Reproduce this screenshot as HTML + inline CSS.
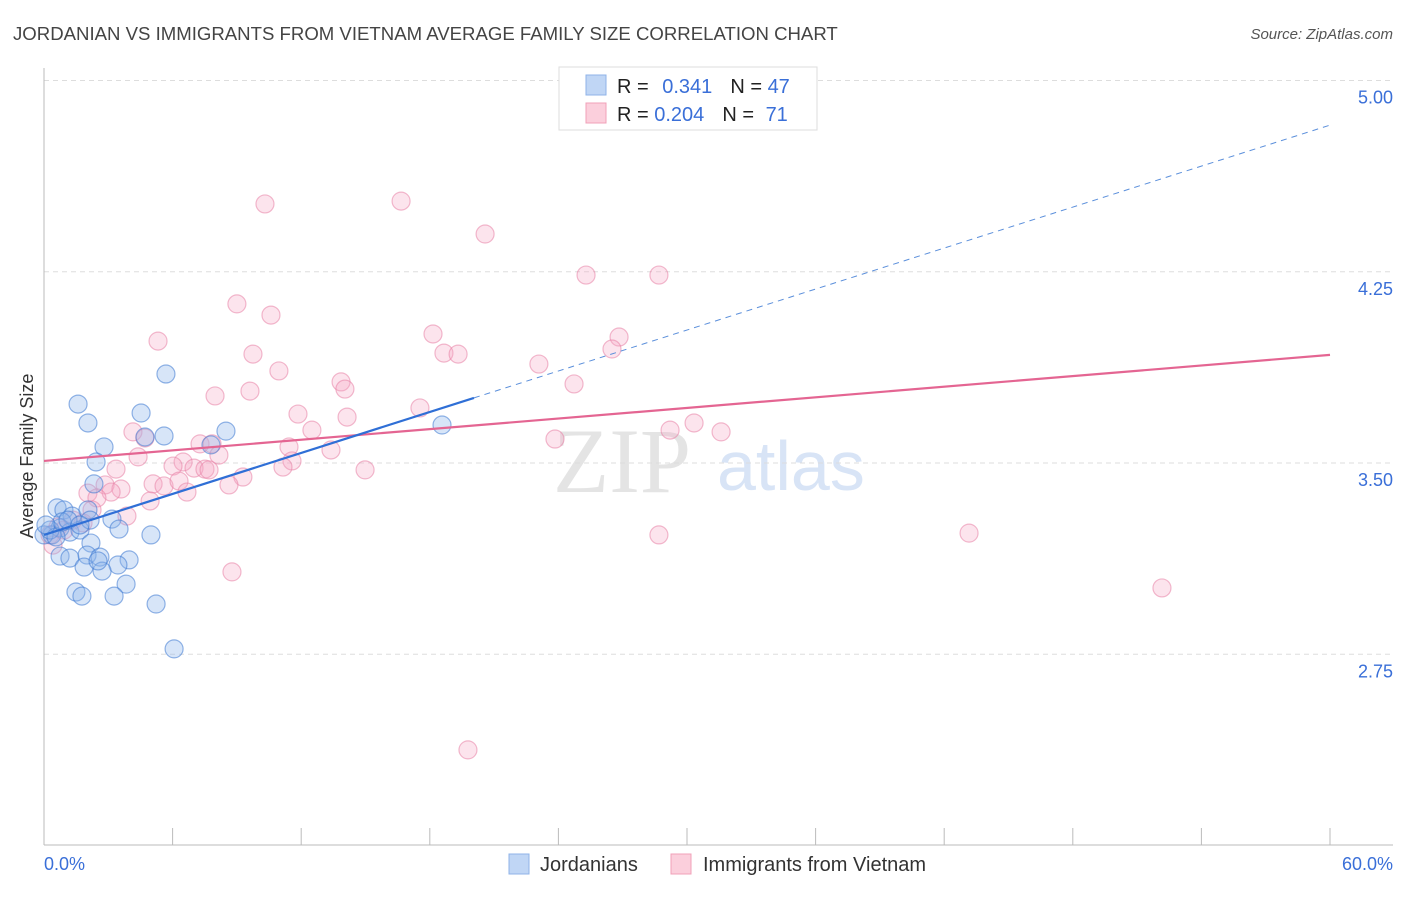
<!DOCTYPE html>
<html><head><meta charset="utf-8"><style>
body{margin:0;background:#fff;font-family:"Liberation Sans",sans-serif;}
svg text{font-family:"Liberation Sans",sans-serif;}
</style></head><body>
<svg id="chart" width="1406" height="892" xmlns="http://www.w3.org/2000/svg">
<text x="13" y="40" font-size="18.6" fill="#444">JORDANIAN VS IMMIGRANTS FROM VIETNAM AVERAGE FAMILY SIZE CORRELATION CHART</text>
<text x="1393" y="39" font-size="15" fill="#555" font-style="italic" text-anchor="end">Source: ZipAtlas.com</text>
<g>
<text x="553" y="492" font-size="92" fill="#e4e4e4" font-family="Liberation Serif" style="font-family:'Liberation Serif',serif">ZIP</text>
<text x="717" y="490" font-size="70" fill="#d8e4f6">atlas</text>
</g>
<g id="grid"></g>
<g id="axes"></g>
<g id="marks"></g>
<text x="33" y="456" font-size="18" fill="#333" text-anchor="middle" transform="rotate(-90 33 456)">Average Family Size</text>
<g>
<rect x="559" y="67" width="258" height="63" fill="#fff" stroke="#ddd"/>
<rect x="586" y="75" width="20" height="20" fill="#c0d6f5" stroke="#8fb3e8"/>
<rect x="586" y="103" width="20" height="20" fill="#fbcfdc" stroke="#f0a0b8"/>
<text x="617" y="93" font-size="20" fill="#222">R = <tspan fill="#3a6fd8" dx="8">0.341</tspan><tspan dx="18">N = </tspan><tspan fill="#3a6fd8">47</tspan></text>
<text x="617" y="121" font-size="20" fill="#222">R = <tspan fill="#3a6fd8">0.204</tspan><tspan dx="18">N = </tspan><tspan fill="#3a6fd8" dx="6">71</tspan></text>
</g>
<g>
<rect x="509" y="854" width="20" height="20" fill="#c0d6f5" stroke="#8fb3e8"/>
<text x="540" y="871" font-size="20" fill="#333">Jordanians</text>
<rect x="671" y="854" width="20" height="20" fill="#fbcfdc" stroke="#f0a0b8"/>
<text x="703" y="871" font-size="20" fill="#333">Immigrants from Vietnam</text>
</g>
</svg>
<script>
const yTicks=[5.00,4.25,3.50,2.75];
const yTickLabels=["5.00","4.25","3.50","2.75"];
const xTicks=[0,6,12,18,24,30,36,42,48,54,60];
const xEndLabels=["0.0%","60.0%"];
const blueX=[1.59,2.05,4.53,5.69,2.80,5.60,4.71,2.43,8.49,7.79,18.57,2.33,0.61,0.93,1.31,2.05,3.17,0.75,0.37,1.21,1.68,3.50,4.99,2.19,0.75,1.21,2.01,2.61,3.97,3.45,1.87,2.71,2.52,3.83,1.49,1.77,3.27,5.23,6.07,0,0.28,0.56,0.84,0.09,2.15,1.12,1.68];
const blueY=[3.731,3.657,3.696,3.849,3.563,3.606,3.602,3.504,3.625,3.571,3.649,3.418,3.324,3.316,3.292,3.316,3.280,3.245,3.218,3.229,3.237,3.241,3.218,3.186,3.135,3.127,3.139,3.131,3.120,3.100,3.092,3.076,3.116,3.025,2.994,2.978,2.978,2.947,2.771,3.218,3.237,3.210,3.269,3.257,3.276,3.276,3.257];
const pinkX=[10.31,16.66,20.58,25.29,28.69,9.00,10.59,18.15,26.83,5.32,18.66,19.32,26.50,9.75,23.09,10.96,13.86,14.04,24.73,7.98,9.61,17.54,11.85,14.14,4.15,4.71,12.50,7.28,7.84,30.33,29.21,31.59,23.84,11.43,13.39,4.39,6.49,6.02,7.00,7.51,7.70,3.36,11.57,11.15,14.98,8.16,9.28,5.09,5.60,6.30,2.85,3.59,8.63,2.05,3.13,2.47,4.95,6.67,2.24,3.87,1.35,1.82,0.65,0.28,0.42,8.77,28.69,43.16,52.16,19.78,0.93];
const pinkY=[4.516,4.527,4.398,4.237,4.237,4.124,4.080,4.006,3.994,3.978,3.931,3.927,3.947,3.927,3.888,3.861,3.818,3.790,3.810,3.763,3.782,3.716,3.692,3.680,3.622,3.598,3.629,3.575,3.575,3.657,3.629,3.622,3.594,3.563,3.551,3.524,3.504,3.488,3.480,3.476,3.473,3.476,3.508,3.484,3.473,3.531,3.445,3.418,3.410,3.429,3.414,3.398,3.414,3.382,3.386,3.363,3.351,3.386,3.316,3.292,3.276,3.265,3.249,3.218,3.178,3.073,3.218,3.225,3.010,2.375,3.237];
const blueTrend=[3.218,4.825];
const blueSolidEnd=[20.06];
const pinkTrend=[3.508,3.924];

const NS="http://www.w3.org/2000/svg";
const X0=44,X1=1330,Y0=463;
function xs(v){return X0+(v/60)*(X1-X0);}
function ys(v){return Y0-(v-3.5)*255;}
function mk(tag,attrs,parent){const e=document.createElementNS(NS,tag);for(const k in attrs)e.setAttribute(k,attrs[k]);parent.appendChild(e);return e;}
const grid=document.getElementById('grid'),axes=document.getElementById('axes'),marks=document.getElementById('marks');
yTicks.forEach((t,i)=>{
 const g=mk('line',{x1:44,x2:1393,y1:ys(t),y2:ys(t),stroke:'#ddd','stroke-dasharray':'5,4'},grid);
 
 
 const l=mk('text',{x:1393,y:ys(t)+23,'font-size':18,fill:'#3a6fd8','text-anchor':'end'},axes);
 l.textContent=yTickLabels[i];
 
 
});
const ya=mk('line',{x1:44,x2:44,y1:68,y2:845,stroke:'#bbb'},axes);


const xa=mk('line',{x1:44,x2:1393,y1:845,y2:845,stroke:'#bbb'},axes);


xTicks.forEach(t=>{
 const tk=mk('line',{x1:xs(t),x2:xs(t),y1:828,y2:845,stroke:'#bbb'},axes);
 
 
});
const xl0=mk('text',{x:44,y:870,'font-size':18,fill:'#3a6fd8'},axes);xl0.textContent=xEndLabels[0];


const xl1=mk('text',{x:1393,y:870,'font-size':18,fill:'#3a6fd8','text-anchor':'end'},axes);xl1.textContent=xEndLabels[1];


pinkX.forEach((x,i)=>{
 const c=mk('circle',{cx:xs(x),cy:ys(pinkY[i]),r:9,fill:'rgba(245,165,195,0.3)',stroke:'rgba(232,130,165,0.55)','stroke-width':1.2},marks);
 
 
});
blueX.forEach((x,i)=>{
 const c=mk('circle',{cx:xs(x),cy:ys(blueY[i]),r:9,fill:'rgba(140,180,235,0.35)',stroke:'rgba(60,120,210,0.55)','stroke-width':1.2},marks);
 
 
});
function tv(tr,x){return tr[0]+(tr[1]-tr[0])*x/60;}
const bd=mk('line',{x1:xs(blueSolidEnd[0]),y1:ys(tv(blueTrend,blueSolidEnd[0])),x2:xs(60),y2:ys(blueTrend[1]),stroke:'#5b8fdb','stroke-width':1,'stroke-dasharray':'6,5'},marks);


const pl=mk('line',{x1:xs(0),y1:ys(pinkTrend[0]),x2:xs(60),y2:ys(pinkTrend[1]),stroke:'#e46592','stroke-width':2.2},marks);


const bl=mk('line',{x1:xs(0),y1:ys(blueTrend[0]),x2:xs(blueSolidEnd[0]),y2:ys(tv(blueTrend,blueSolidEnd[0])),stroke:'#2f6fd6','stroke-width':2.2},marks);


</script>
</body></html>
